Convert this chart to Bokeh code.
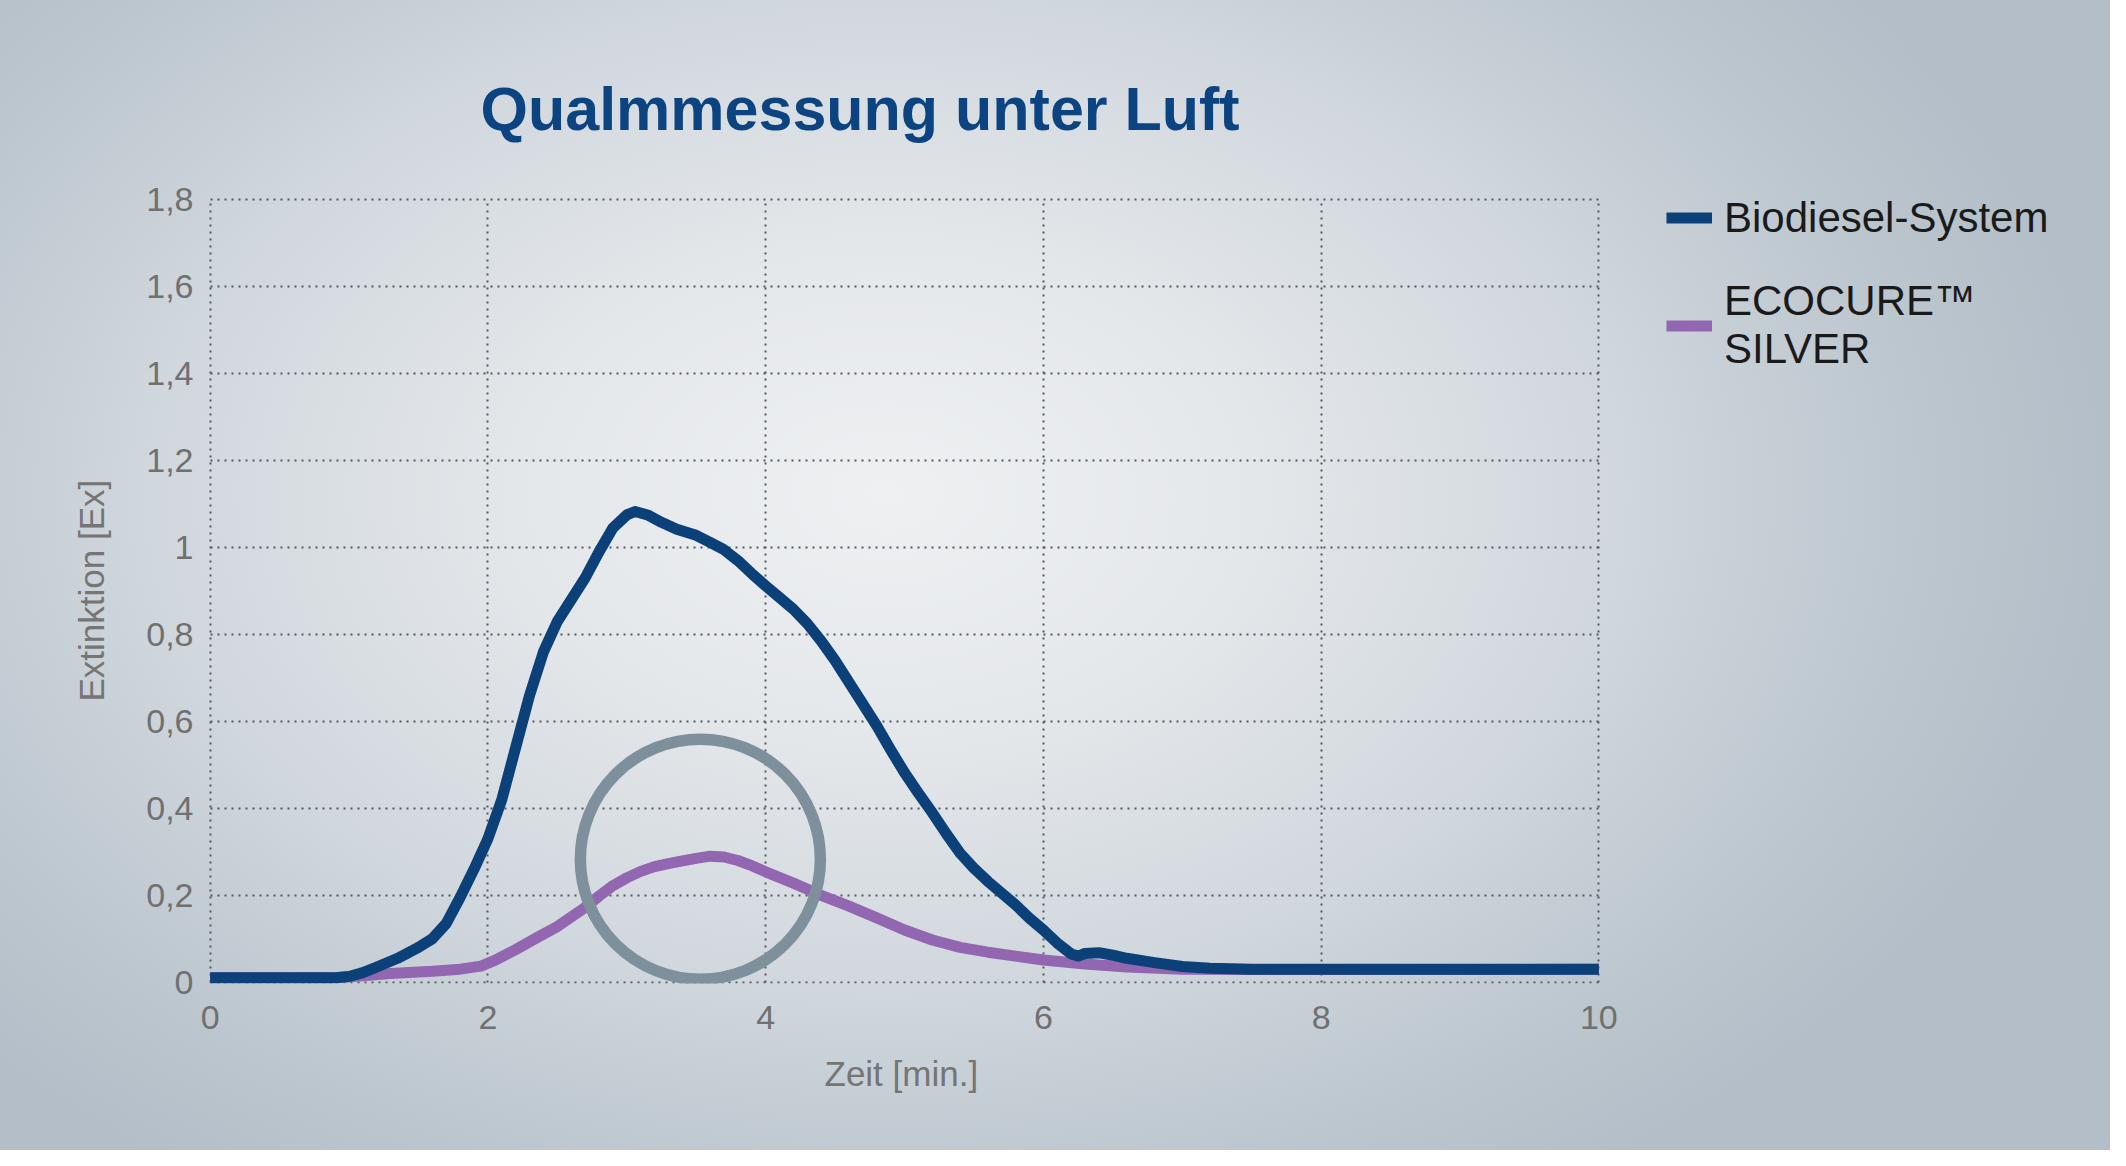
from bokeh.plotting import figure
from bokeh.models import FixedTicker, Legend, LegendItem, Range1d, Grid, Title
from bokeh.embed import file_html
from bokeh.resources import INLINE

# ---------------- data ----------------
title_text = "Qualmmessung unter Luft"
x_label = "Zeit [min.]"
y_label = "Extinktion [Ex]"

series_names = ["Biodiesel-System", "ECOCURE™\nSILVER"]
series_colors = ["#0b4079", "#9266b0"]

time_biodiesel = [0, 0.5, 0.9, 1.0, 1.1, 1.2, 1.35, 1.5, 1.6, 1.7, 1.8, 1.9, 2.0, 2.1,
                  2.2, 2.3, 2.4, 2.45, 2.5, 2.6, 2.7, 2.8, 2.9, 3.0, 3.06, 3.15, 3.25,
                  3.36, 3.5, 3.6, 3.7, 3.8, 3.9, 4.0, 4.1, 4.2, 4.3, 4.4, 4.5, 4.6, 4.7,
                  4.8, 4.9, 5.0, 5.1, 5.2, 5.3, 5.4, 5.5, 5.6, 5.7, 5.8, 5.9, 6.0, 6.1,
                  6.2, 6.25, 6.3, 6.4, 6.5, 6.6, 6.8, 7.0, 7.2, 7.5, 8.0, 9.0, 10.0]
ext_biodiesel = [0.01, 0.01, 0.01, 0.013, 0.022, 0.035, 0.055, 0.08, 0.1, 0.135, 0.195,
                 0.26, 0.33, 0.42, 0.54, 0.66, 0.76, 0.795, 0.83, 0.88, 0.93, 0.99, 1.045,
                 1.075, 1.083, 1.075, 1.058, 1.042, 1.028, 1.012, 0.995, 0.97, 0.94, 0.912,
                 0.885, 0.858, 0.825, 0.785, 0.74, 0.69, 0.64, 0.59, 0.535, 0.482, 0.435,
                 0.39, 0.342, 0.297, 0.262, 0.232, 0.205, 0.178, 0.147, 0.12, 0.09, 0.065,
                 0.06, 0.066, 0.068, 0.062, 0.055, 0.045, 0.036, 0.032, 0.03, 0.03, 0.03,
                 0.03]

time_ecocure = [0, 0.9, 1.1, 1.3, 1.6, 1.8, 1.95, 2.05, 2.2, 2.35, 2.5, 2.6, 2.7, 2.8,
                2.9, 3.0, 3.1, 3.2, 3.3, 3.4, 3.5, 3.6, 3.7, 3.8, 3.9, 4.0, 4.2, 4.4,
                4.6, 4.8, 5.0, 5.2, 5.4, 5.6, 5.8, 6.0, 6.3, 6.6, 7.0, 8.0, 9.0, 10.0]
ext_ecocure = [0.01, 0.01, 0.015, 0.02, 0.025, 0.03, 0.037, 0.05, 0.075, 0.102, 0.128,
               0.15, 0.172, 0.198, 0.222, 0.24, 0.255, 0.266, 0.273, 0.279, 0.285, 0.29,
               0.288, 0.28, 0.268, 0.254, 0.228, 0.2, 0.175, 0.148, 0.12, 0.097, 0.08,
               0.069, 0.06, 0.051, 0.042, 0.035, 0.03, 0.029, 0.029, 0.03]

highlight_x = [3.53]
highlight_y = [0.283]

x_ticks = [0, 2, 4, 6, 8, 10]
x_tick_labels = ["0", "2", "4", "6", "8", "10"]
y_ticks = [0, 0.2, 0.4, 0.6, 0.8, 1.0, 1.2, 1.4, 1.6, 1.8]
y_tick_labels = ["0", "0,2", "0,4", "0,6", "0,8", "1", "1,2", "1,4", "1,6", "1,8"]
x_bounds = (0, 10)
y_bounds = (0, 1.8)

# ---------------- figure ----------------
# The frame extends to the right edge (and a little above the grid) so that the
# legend, placed inside it, is not clipped; axes and grid are bounded to the data area.
W, H = 2110, 1150
PAD_L, PAD_B, PAD_T = 208, 167, 170
grid_w, grid_h = 1392, 785
x0, y0 = -0.012, -0.003
x_per_px = 10.024 / grid_w
y_per_px = 1.806 / grid_h
x1 = x0 + (W - PAD_L) * x_per_px
y1 = y0 + (H - PAD_B - PAD_T) * y_per_px

p = figure(width=W, height=H, output_backend="svg", toolbar_location=None,
           x_range=Range1d(x0, x1), y_range=Range1d(y0, y1),
           min_border_left=PAD_L, min_border_right=0, min_border_top=PAD_T,
           min_border_bottom=PAD_B)

p.styles = {"background": "radial-gradient(ellipse 58% 72% at 42% 43%, "
                          "#eef0f2 0%, #e5e8eb 28%, #d0d7dd 60%, #bcc6ce 85%, #b3bec8 100%)"}
p.border_fill_color = None
p.background_fill_color = None
p.outline_line_color = None

# title
p.title.text = title_text
p.title.align = "left"
p.title.offset = 272
p.title.standoff = 56
p.title.text_font = "Liberation Sans"
p.title.text_font_style = "bold"
p.title.text_font_size = "61px"
p.title.text_color = "#0c4381"

# axes
for ax in (p.xaxis[0], p.yaxis[0]):
    ax.axis_line_color = None
    ax.major_tick_line_color = None
    ax.minor_tick_line_color = None
    ax.major_label_text_font = "Liberation Sans"
    ax.major_label_text_font_size = "34px"
    ax.major_label_text_color = "#707070"

p.xaxis.bounds = x_bounds
p.yaxis.bounds = y_bounds
p.xaxis.ticker = FixedTicker(ticks=x_ticks)
p.xaxis.major_label_overrides = dict(zip(x_ticks, x_tick_labels))
p.yaxis.ticker = FixedTicker(ticks=y_ticks)
p.yaxis.major_label_overrides = dict(zip(y_ticks, y_tick_labels))
p.xaxis.major_label_standoff = 16
p.yaxis.major_label_standoff = 9

# axis titles, positioned along the bounded data area
label_style = dict(text_font="Liberation Sans", text_font_size="35px",
                   text_font_style="normal", text_color="#757575")
p.add_layout(Title(text=x_label, align="left", offset=616, standoff=41, **label_style),
             "below")
p.add_layout(Title(text=y_label, align="left", offset=282, standoff=66, **label_style),
             "left")

# grid (dotted), limited to the data area
GRID_COLOR, GRID_W, GRID_DASH = "#535860", 2, "2 5"
if "cross_bounds" in Grid.properties():
    for g in (p.xgrid[0], p.ygrid[0]):
        g.grid_line_color = GRID_COLOR
        g.grid_line_width = GRID_W
        g.grid_line_dash = GRID_DASH
    p.xgrid.ticker = FixedTicker(ticks=x_ticks)
    p.ygrid.ticker = FixedTicker(ticks=y_ticks)
    p.xgrid[0].cross_bounds = y_bounds
    p.ygrid[0].cross_bounds = x_bounds
else:
    p.xgrid.visible = False
    p.ygrid.visible = False
    p.segment(x0=x_ticks, y0=[y_bounds[0]] * len(x_ticks), x1=x_ticks,
              y1=[y_bounds[1]] * len(x_ticks), line_color=GRID_COLOR,
              line_width=GRID_W, line_dash=GRID_DASH)
    p.segment(x0=[x_bounds[0]] * len(y_ticks), y0=y_ticks,
              x1=[x_bounds[1]] * len(y_ticks), y1=y_ticks, line_color=GRID_COLOR,
              line_width=GRID_W, line_dash=GRID_DASH)

# lines
r_eco = p.line(time_ecocure, ext_ecocure, line_color=series_colors[1], line_width=11,
               line_join="round", line_cap="butt")
r_bio = p.line(time_biodiesel, ext_biodiesel, line_color=series_colors[0], line_width=11,
               line_join="round", line_cap="butt")

# highlight circle
p.scatter(highlight_x, highlight_y, marker="circle", size=240, fill_alpha=0,
          line_color="#7d909c", line_width=11.5)

# legend
legend = Legend(items=[LegendItem(label=series_names[0], renderers=[r_bio]),
                       LegendItem(label=series_names[1], renderers=[r_eco])],
                location=(1458, 610), orientation="vertical",
                margin=0, padding=0, spacing=34,
                glyph_width=46, glyph_height=51, label_height=51,
                label_standoff=12,
                label_text_font="Liberation Sans", label_text_font_size="42px",
                label_text_color="#1a1a1a", label_text_line_height=1.25,
                border_line_color=None, background_fill_alpha=0)
p.add_layout(legend, "center")

open("out.html", "w").write(file_html(p, INLINE, title=title_text))
